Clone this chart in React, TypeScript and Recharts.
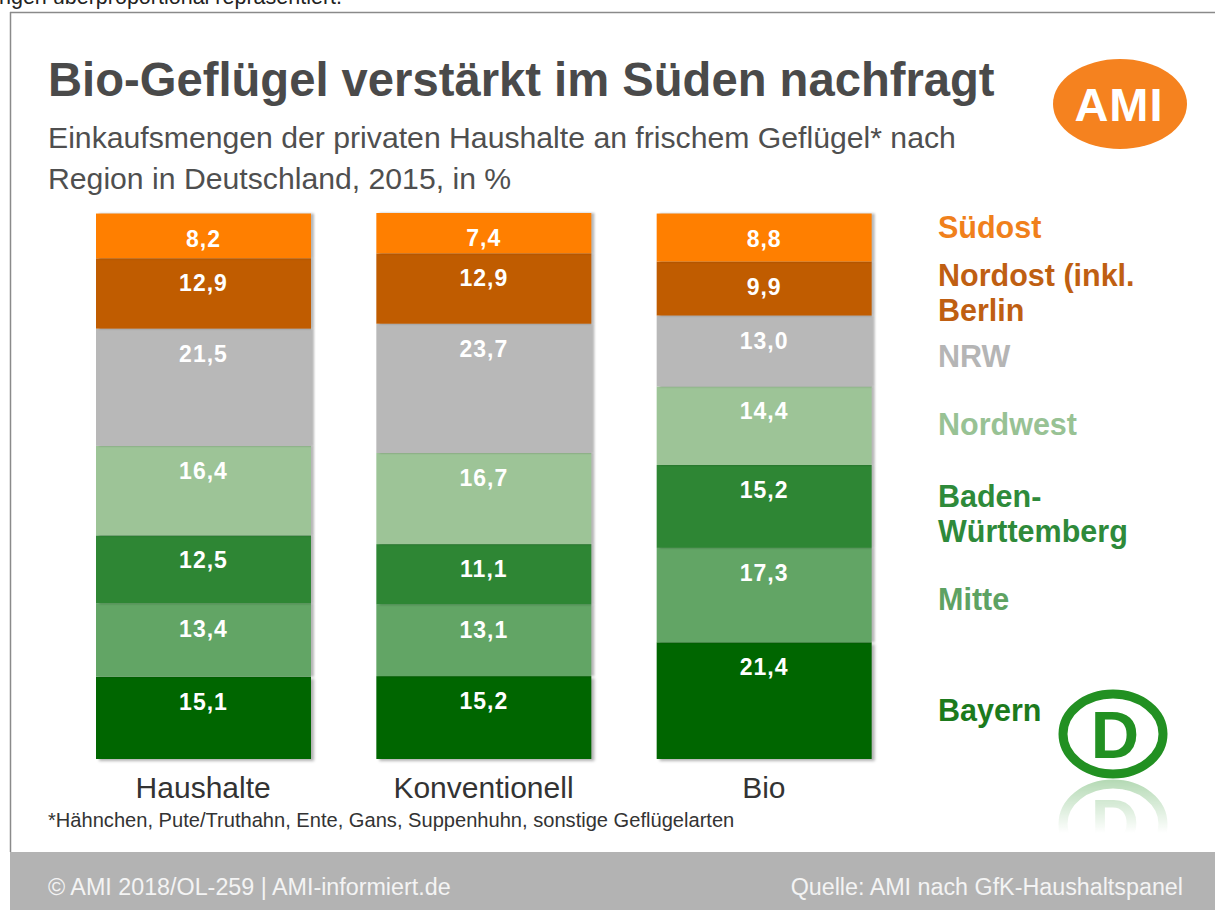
import { BarChart, Bar, XAxis, YAxis, LabelList } from "recharts";

const categories = ["Haushalte", "Konventionell", "Bio"];
const suedost = [8.2, 7.4, 8.8];
const nordost = [12.9, 12.9, 9.9];
const nrw = [21.5, 23.7, 13.0];
const nordwest = [16.4, 16.7, 14.4];
const badenWuerttemberg = [12.5, 11.1, 15.2];
const mitte = [13.4, 13.1, 17.3];
const bayern = [15.1, 15.2, 21.4];

// bottom to top
const series = [
  { key: "bayern", values: bayern, color: "#006600" },
  { key: "mitte", values: mitte, color: "#62a565" },
  { key: "bw", values: badenWuerttemberg, color: "#2e8634" },
  { key: "nordwest", values: nordwest, color: "#9dc497" },
  { key: "nrw", values: nrw, color: "#b8b8b8" },
  { key: "nordost", values: nordost, color: "#c05c00" },
  { key: "suedost", values: suedost, color: "#ff7f00" },
];

const data = categories.map((name, i) => {
  const row: Record<string, string | number> = { name };
  series.forEach((s) => (row[s.key] = s.values[i]));
  return row;
});

const legend = [
  { lines: ["Südost"], color: "#f0801c", top: 238 },
  { lines: ["Nordost (inkl.", "Berlin"], color: "#bf5f12", top: 286 },
  { lines: ["NRW"], color: "#b5b5b5", top: 367 },
  { lines: ["Nordwest"], color: "#98c294", top: 435 },
  { lines: ["Baden-", "Württemberg"], color: "#2e8a3a", top: 507 },
  { lines: ["Mitte"], color: "#5ea262", top: 610 },
  { lines: ["Bayern"], color: "#1c7a1c", top: 721 },
];

const fmt = (v: any) => {
  const n = Array.isArray(v) ? v[1] - v[0] : Number(v);
  return n.toFixed(1).replace(".", ",");
};

const FONT = "'Liberation Sans', Arial, sans-serif";

export default function App() {
  return (
    <div
      style={{
        position: "absolute",
        left: 0,
        top: 0,
        width: 1215,
        height: 910,
        background: "#fff",
        overflow: "hidden",
        fontFamily: FONT,
      }}
    >
      <svg width={1215} height={910} style={{ position: "absolute", left: 0, top: 0 }}>
        <defs>
          <linearGradient id="fade" x1="0" y1="0" x2="0" y2="1">
            <stop offset="0" stopColor="#fff" stopOpacity={0.35} />
            <stop offset="1" stopColor="#fff" stopOpacity={0} />
          </linearGradient>
          <mask id="refl">
            <rect x={1040} y={778} width={150} height={55} fill="url(#fade)" />
          </mask>
        </defs>
        <text x={-1} y={4} fontSize={21.5} fill="#222" fontFamily={FONT}>
          rigen überproportional repräsentiert.
        </text>
        <line x1={10} y1={12.5} x2={1215} y2={12.5} stroke="#8a8a8a" strokeWidth={1.5} />
        <line x1={10.5} y1={12} x2={10.5} y2={852} stroke="#8a8a8a" strokeWidth={1.5} />
        <rect x={10} y={852} width={1205} height={58} fill="#b3b3b3" />
        <text x={48} y={96} fontSize={47.2} fontWeight="bold" fill="#4a4a4a" fontFamily={FONT}>
          Bio-Geflügel verstärkt im Süden nachfragt
        </text>
        <text x={48} y={148} fontSize={30.2} fill="#4f4f4f" fontFamily={FONT}>
          Einkaufsmengen der privaten Haushalte an frischem Geflügel* nach
        </text>
        <text x={48} y={189} fontSize={30.2} fill="#4f4f4f" fontFamily={FONT}>
          Region in Deutschland, 2015, in %
        </text>
        <text x={48} y={827} fontSize={20.1} fill="#333" fontFamily={FONT}>
          *Hähnchen, Pute/Truthahn, Ente, Gans, Suppenhuhn, sonstige Geflügelarten
        </text>
        <text x={48} y={895} fontSize={23.3} fill="#f4f4f4" fontFamily={FONT}>
          © AMI 2018/OL-259 | AMI-informiert.de
        </text>
        <text x={1183} y={895} fontSize={23.3} fill="#f4f4f4" textAnchor="end" fontFamily={FONT}>
          Quelle: AMI nach GfK-Haushaltspanel
        </text>
        {/* AMI logo */}
        <ellipse cx={1120} cy={104} rx={67} ry={45} fill="#f5821f" />
        <text
          x={1119}
          y={121}
          fontSize={47}
          fontWeight="bold"
          fill="#fff"
          textAnchor="middle"
          letterSpacing={1}
          fontFamily={FONT}
        >
          AMI
        </text>
        {/* legend */}
        {legend.map((l) =>
          l.lines.map((t, j) => (
            <text
              key={t}
              x={938}
              y={l.top + j * 35}
              fontSize={30.5}
              fontWeight="bold"
              fill={l.color}
              fontFamily={FONT}
            >
              {t}
            </text>
          ))
        )}
        {/* D logo */}
        <g>
          <ellipse cx={1113} cy={734} rx={50} ry={40} fill="#fff" stroke="#229022" strokeWidth={9} />
          <text x={1115} y={758} fontSize={67} fontWeight="bold" fill="#229022" textAnchor="middle" fontFamily={FONT}>
            D
          </text>
        </g>
        <g mask="url(#refl)">
          <g transform="translate(0 1558) scale(1 -1)">
            <ellipse cx={1113} cy={734} rx={50} ry={40} fill="none" stroke="#229022" strokeWidth={9} />
            <text x={1115} y={758} fontSize={67} fontWeight="bold" fill="#229022" textAnchor="middle" fontFamily={FONT}>
              D
            </text>
          </g>
        </g>
      </svg>
      <div style={{ position: "absolute", left: 0, top: 0 }}>
        <BarChart
          width={1215}
          height={820}
          data={data}
          margin={{ top: 213, right: 311, bottom: 0, left: 63 }}
          barSize={215}
        >
          <XAxis
            dataKey="name"
            axisLine={false}
            tickLine={false}
            height={61}
            interval={0}
            tick={(p: any) => (
              <text
                x={p.x}
                y={p.y}
                dy={31}
                textAnchor="middle"
                fontSize={30}
                fill="#333"
                fontFamily={FONT}
              >
                {p.payload.value}
              </text>
            )}
          />
          <YAxis hide domain={[0, 100]} />
          {series.map((s, idx) => (
            <Bar
              key={s.key}
              dataKey={s.key}
              stackId="a"
              fill={s.color}
              isAnimationActive={false}
              shape={(p: any) => (
                <rect
                  x={p.x}
                  y={p.y}
                  width={p.width}
                  height={p.height}
                  fill={s.color}
                  style={{
                    filter:
                      idx === 0
                        ? "drop-shadow(3px 2px 1.5px rgba(0,0,0,0.3))"
                        : "drop-shadow(3px 0px 1px rgba(0,0,0,0.28))",
                  }}
                />
              )}
            >
              <LabelList
                dataKey={s.key}
                content={(p: any) => (
                  <text
                    x={p.x + p.width / 2}
                    y={p.y + 33}
                    textAnchor="middle"
                    fontSize={23}
                    fontWeight="bold"
                    letterSpacing={1}
                    fill="#fff"
                    fontFamily={FONT}
                  >
                    {fmt(p.value)}
                  </text>
                )}
              />
            </Bar>
          ))}
        </BarChart>
      </div>
    </div>
  );
}
